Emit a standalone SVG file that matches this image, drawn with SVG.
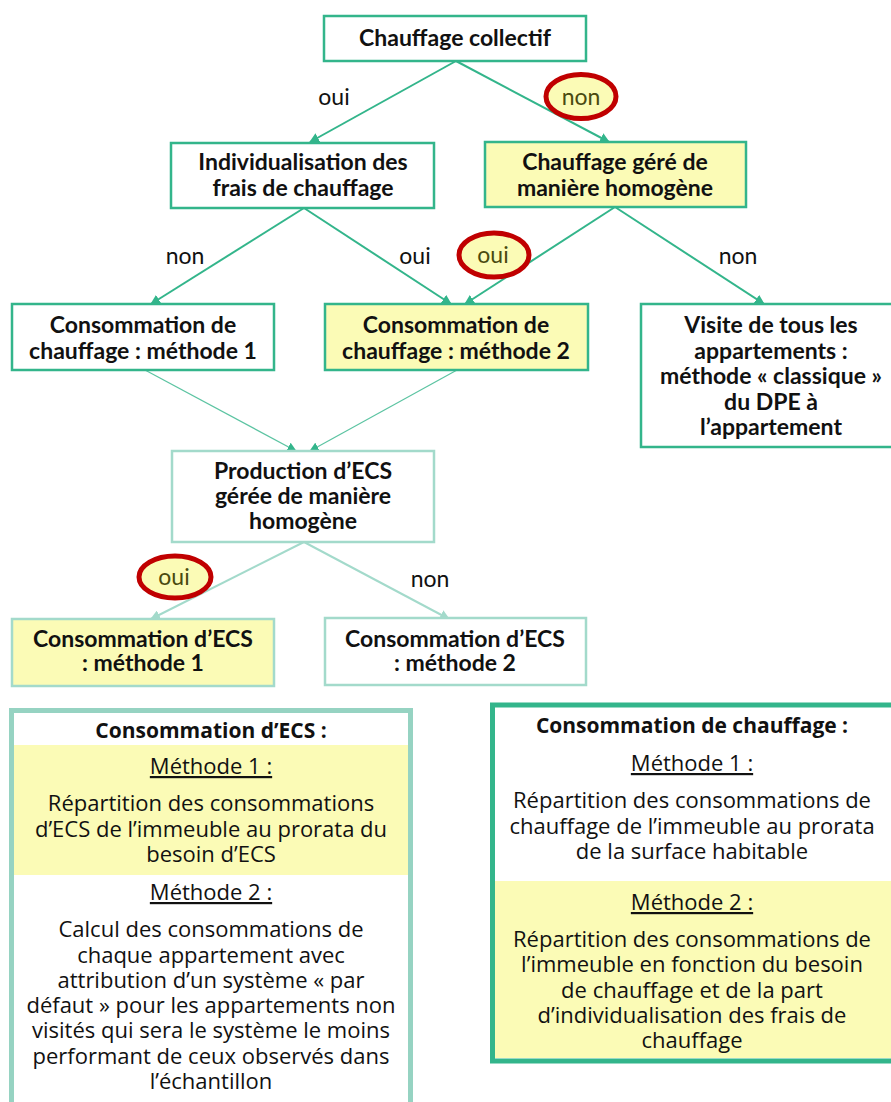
<svg xmlns="http://www.w3.org/2000/svg" width="891" height="1102" viewBox="0 0 891 1102">
<style>
.n{fill:#fff;stroke:#33b58b;stroke-width:2.5}
.ny{fill:#fbfbb6;stroke:#33b58b;stroke-width:2.5}
.nl{fill:#fff;stroke:#a3dacb;stroke-width:2.5}
.nly{fill:#fbfbb6;stroke:#a3dacb;stroke-width:2.5}
.t{font-family:Lato,"Liberation Sans",sans-serif;font-weight:bold;font-size:23px;fill:#111;text-anchor:middle}
.lb{font-family:Lato,"Liberation Sans",sans-serif;font-size:23px;fill:#111;text-anchor:middle}
.lc{font-family:Lato,"Liberation Sans",sans-serif;font-size:23px;fill:#4a4a10;text-anchor:middle}
.c{fill:#fbfbb6;stroke:#c00000;stroke-width:5}
.e1{stroke:#33b58b;stroke-width:2;fill:none;marker-end:url(#a1)}
.e2{stroke:#5cc4a2;stroke-width:1.2;fill:none;marker-end:url(#a2)}
.e3{stroke:#a3dacb;stroke-width:2;fill:none;marker-end:url(#a3)}
.b{font-family:"Open Sans","Liberation Sans",sans-serif;font-size:22px;fill:#111;text-anchor:middle}
.bt{font-family:"Open Sans","Liberation Sans",sans-serif;font-size:21px;font-weight:bold;fill:#111;text-anchor:middle}
.u{text-decoration:underline}
</style>
<defs>
<marker id="a1" viewBox="0 0 10 10" refX="9" refY="5" markerWidth="5" markerHeight="5" orient="auto" markerUnits="strokeWidth"><path d="M0,0L10,5L0,10z" fill="#33b58b"/></marker>
<marker id="a2" viewBox="0 0 10 10" refX="9" refY="5" markerWidth="8" markerHeight="8" orient="auto" markerUnits="strokeWidth"><path d="M0,0L10,5L0,10z" fill="#33b58b"/></marker>
<marker id="a3" viewBox="0 0 10 10" refX="9" refY="5" markerWidth="5" markerHeight="5" orient="auto" markerUnits="strokeWidth"><path d="M0,0L10,5L0,10z" fill="#a3dacb"/></marker>
</defs>
<g id="connectors">
<path class="e1" d="M456,61L310,142"/>
<path class="e1" d="M456,61L609,142"/>
<path class="e1" d="M304,208L151,304"/>
<path class="e1" d="M304,208L451,304"/>
<path class="e1" d="M615,207L465,304"/>
<path class="e1" d="M615,207L764,304"/>
<path class="e2" d="M145,370L296,451"/>
<path class="e2" d="M457,370L310,451"/>
<path class="e3" d="M304,542L151,619"/>
<path class="e3" d="M304,542L449,619"/>
</g>
<g id="labels">
<text class="lb" x="334" y="105">oui</text>
<ellipse class="c" cx="581" cy="96.5" rx="35" ry="22"/>
<text class="lc" x="581" y="105">non</text>
<text class="lb" x="185" y="264">non</text>
<text class="lb" x="415" y="264">oui</text>
<ellipse class="c" cx="494" cy="255" rx="35" ry="22"/>
<text class="lc" x="493" y="263">oui</text>
<text class="lb" x="738" y="264">non</text>
<ellipse class="c" cx="175" cy="577" rx="36" ry="21"/>
<text class="lc" x="174" y="585">oui</text>
<text class="lb" x="430" y="587">non</text>
</g>
<g id="n1"><rect class="n" x="324" y="16" width="262" height="45"/><text class="t" x="455" y="46">Chauffage collectif</text></g>
<g id="n2"><rect class="n" x="171" y="143" width="263" height="65"/><text class="t" x="303" y="170">Individualisation des</text><text class="t" x="303" y="196">frais de chauffage</text></g>
<g id="n3"><rect class="ny" x="485" y="142" width="261" height="65"/><text class="t" x="615" y="170">Chauffage géré de</text><text class="t" x="615" y="196">manière homogène</text></g>
<g id="n4"><rect class="n" x="12" y="304" width="262" height="66"/><text class="t" x="143" y="333">Consommation de</text><text class="t" x="143" y="359">chauffage : méthode 1</text></g>
<g id="n5"><rect class="ny" x="325" y="304" width="263" height="66"/><text class="t" x="456" y="333">Consommation de</text><text class="t" x="456" y="359">chauffage : méthode 2</text></g>
<g id="n6"><rect class="n" x="641" y="304" width="252" height="143"/><text class="t" x="771" y="333">Visite de tous les</text><text class="t" x="771" y="359">appartements :</text><text class="t" x="771" y="384">méthode « classique »</text><text class="t" x="771" y="410">du DPE à</text><text class="t" x="771" y="435">l’appartement</text></g>
<g id="n7"><rect class="nl" x="172" y="451" width="262" height="91"/><text class="t" x="303" y="479">Production d’ECS</text><text class="t" x="303" y="504">gérée de manière</text><text class="t" x="303" y="529">homogène</text></g>
<g id="n8"><rect class="nly" x="12" y="619" width="262" height="67"/><text class="t" x="143" y="647">Consommation d’ECS</text><text class="t" x="143" y="671">: méthode 1</text></g>
<g id="n9"><rect class="nl" x="325" y="618" width="261" height="67"/><text class="t" x="455" y="647">Consommation d’ECS</text><text class="t" x="455" y="671">: méthode 2</text></g>
<g id="ecs">
<rect x="11.5" y="710.5" width="399" height="400" fill="#fff" stroke="#96d3c2" stroke-width="5"/>
<rect x="14" y="745" width="394" height="130" fill="#fbfbb6"/>
<text class="bt" x="211" y="738">Consommation d’ECS :</text>
<text class="b u" x="211" y="774">Méthode 1 :</text>
<text class="b" x="211" y="811">Répartition des consommations</text>
<text class="b" x="211" y="837">d’ECS de l’immeuble au prorata du</text>
<text class="b" x="211" y="862">besoin d’ECS</text>
<text class="b u" x="211" y="900">Méthode 2 :</text>
<text class="b" x="211" y="937">Calcul des consommations de</text>
<text class="b" x="211" y="963">chaque appartement avec</text>
<text class="b" x="211" y="988">attribution d’un système « par</text>
<text class="b" x="211" y="1013">défaut » pour les appartements non</text>
<text class="b" x="211" y="1038">visités qui sera le système le moins</text>
<text class="b" x="211" y="1064">performant de ceux observés dans</text>
<text class="b" x="211" y="1089">l’échantillon</text>
</g>
<g id="chauffage">
<rect x="492.5" y="705" width="402" height="356" fill="#fff" stroke="#33b58b" stroke-width="5"/>
<rect x="495" y="881" width="396" height="177" fill="#fbfbb6"/>
<text class="bt" x="692" y="733">Consommation de chauffage :</text>
<text class="b u" x="692" y="771">Méthode 1 :</text>
<text class="b" x="692" y="808">Répartition des consommations de</text>
<text class="b" x="692" y="834">chauffage de l’immeuble au prorata</text>
<text class="b" x="692" y="859">de la surface habitable</text>
<text class="b u" x="692" y="910">Méthode 2 :</text>
<text class="b" x="692" y="947">Répartition des consommations de</text>
<text class="b" x="692" y="972">l’immeuble en fonction du besoin</text>
<text class="b" x="692" y="998">de chauffage et de la part</text>
<text class="b" x="692" y="1023">d’individualisation des frais de</text>
<text class="b" x="692" y="1048">chauffage</text>
</g>
</svg>
